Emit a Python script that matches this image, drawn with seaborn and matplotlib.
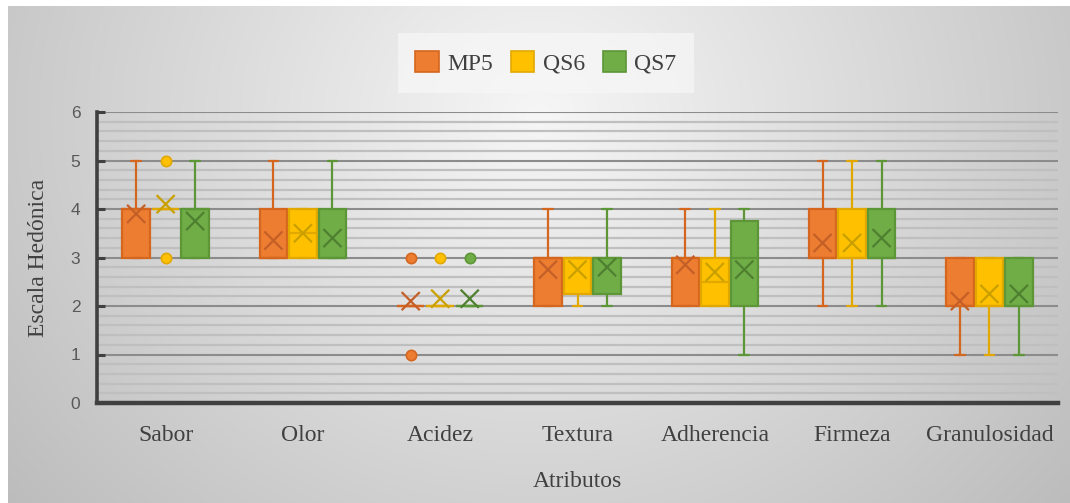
import numpy as np
import pandas as pd
import matplotlib
matplotlib.use("Agg")
import matplotlib.pyplot as plt
from matplotlib.patches import Patch
from matplotlib.ticker import MultipleLocator
import seaborn as sns

# ---------------- data ----------------
categories = ["Sabor", "Olor", "Acidez", "Textura", "Adherencia", "Firmeza", "Granulosidad"]
series = ["MP5", "QS6", "QS7"]

q1 = {"MP5": [3, 3, 2, 2, 2, 3, 2],
      "QS6": [4, 3, 2, 2.25, 2, 3, 2],
      "QS7": [3, 3, 2, 2.25, 2, 3, 2]}
q3 = {"MP5": [4, 4, 2, 3, 3, 4, 3],
      "QS6": [4, 4, 2, 3, 3, 4, 3],
      "QS7": [4, 4, 2, 3, 3.75, 4, 3]}
median = {"MP5": [4, 3, 2, 3, 3, 3, 2],
          "QS6": [4, 3.5, 2, 3, 2.5, 3, 2],
          "QS7": [4, 3, 2, 3, 3, 3, 2]}
whisker_low = {"MP5": [3, 3, 2, 2, 2, 2, 1],
               "QS6": [4, 3, 2, 2, 2, 2, 1],
               "QS7": [3, 3, 2, 2, 1, 2, 1]}
whisker_high = {"MP5": [5, 5, 2, 4, 4, 5, 3],
                "QS6": [4, 4, 2, 3, 4, 5, 3],
                "QS7": [5, 5, 2, 4, 4, 5, 3]}
mean = {"MP5": [3.9, 3.35, 2.1, 2.75, 2.85, 3.3, 2.1],
        "QS6": [4.1, 3.5, 2.15, 2.75, 2.7, 3.3, 2.25],
        "QS7": [3.75, 3.4, 2.15, 2.8, 2.75, 3.4, 2.25]}
outliers = {"MP5": [[], [], [3, 1], [], [], [], []],
            "QS6": [[3, 5], [], [3], [], [], [], []],
            "QS7": [[], [], [3], [], [], [], []]}

y_ticks = [0, 1, 2, 3, 4, 5, 6]

# ---------------- style ----------------
fill = {"MP5": "#ED7D31", "QS6": "#FFC000", "QS7": "#70AD47"}
edge = {"MP5": "#D4661E", "QS6": "#E3A800", "QS7": "#5C9637"}
dark = {"MP5": "#C45F27", "QS6": "#C9A000", "QS7": "#4E8030"}
offsets = {"MP5": -0.215, "QS6": 0.0, "QS7": 0.215}

sns.set_theme(style="white")
plt.rcParams["font.family"] = ["Liberation Serif", "DejaVu Serif"]

W, H = 1070, 503
fig = plt.figure(figsize=(W / 100, H / 100), dpi=100)
fig.patch.set_facecolor("white")

# background gradient panel
bg = fig.add_axes([8 / W, 0, 1 - 8 / W, 1 - 6 / H], zorder=-5)
gx = np.linspace(0, 1, 400)
gy = np.linspace(1, 0, 200)
GX, GY = np.meshgrid(gx, gy)
d = np.sqrt(((GX - 0.5) / 0.5) ** 2 + ((GY - 0.78) / 0.95) ** 2)
val = np.clip(0.965 - 0.175 * d, 0, 1)
bg.imshow(np.dstack([val, val, val]), aspect="auto", extent=[0, 1, 0, 1])
bg.set_axis_off()

L, R = 97, 1058
T, B = 112, 403
ax = fig.add_axes([L / W, 1 - B / H, (R - L) / W, (B - T) / H])
ax.set_facecolor("none")

# boxes
for s in series:
    for i, c in enumerate(categories):
        st = dict(q1=q1[s][i], q3=q3[s][i], med=median[s][i],
                  whislo=whisker_low[s][i], whishi=whisker_high[s][i], fliers=[])
        ax.bxp([st], positions=[i + offsets[s]], widths=0.2, capwidths=0.07,
               patch_artist=True, showfliers=False, manage_ticks=False,
               boxprops=dict(facecolor=fill[s], edgecolor=edge[s], linewidth=1.6),
               medianprops=dict(color=edge[s], linewidth=1.6),
               whiskerprops=dict(color=edge[s], linewidth=1.6),
               capprops=dict(color=edge[s], linewidth=1.6), zorder=3)

# means and outliers via seaborn
rows_m, rows_o = [], []
for s in series:
    for i, c in enumerate(categories):
        rows_m.append(dict(serie=s, x=i + offsets[s], y=mean[s][i]))
        for v in outliers[s][i]:
            rows_o.append(dict(serie=s, x=i + offsets[s], y=v))
df_m = pd.DataFrame(rows_m)
df_o = pd.DataFrame(rows_o)

sns.scatterplot(data=df_m, x="x", y="y", hue="serie", palette=dark, marker="x",
                s=170, linewidth=1.6, legend=False, ax=ax, zorder=5)
for s in series:
    sub = df_o[df_o["serie"] == s]
    sns.scatterplot(data=sub, x="x", y="y", color=fill[s], edgecolor=edge[s],
                    marker="o", s=55, linewidth=1.2, legend=False, ax=ax, zorder=5)

# axes
ax.set_xlim(-0.5, len(categories) - 0.5)
ax.set_ylim(0, 6)
ax.set_xticks(range(len(categories)))
ax.set_xticklabels(categories, fontsize=17, color="#404040")
ax.set_yticks(y_ticks)
ax.set_yticklabels([str(t) for t in y_ticks], fontsize=12.5, color="#595959",
                   family=["Liberation Sans", "DejaVu Sans"])
ax.yaxis.set_minor_locator(MultipleLocator(0.2))
ax.tick_params(axis="x", length=0, pad=16)
ax.tick_params(axis="y", which="major", direction="in", length=6, width=2.2,
               color="#404040", pad=12, left=True)
ax.tick_params(axis="y", which="minor", length=0)
ax.grid(axis="y", which="major", color="#8c8c8c", linewidth=1.5)
ax.grid(axis="y", which="minor", color="#bfbfbf", linewidth=1.6)
ax.grid(axis="x", visible=False)
ax.set_axisbelow(True)
for sp in ["top", "right"]:
    ax.spines[sp].set_visible(False)
ax.spines["left"].set_color("#404040")
ax.spines["left"].set_linewidth(2.6)
ax.spines["bottom"].set_color("#404040")
ax.spines["bottom"].set_linewidth(3.2)
ax.spines["bottom"].set_zorder(6)

ax.set_xlabel("Atributos", fontsize=17, color="#404040")
ax.xaxis.set_label_coords(0.5, -0.235)
ax.set_ylabel("Escala Hedónica", fontsize=17, color="#404040")
ax.yaxis.set_label_coords(-0.05, 0.5)

handles = [Patch(facecolor=fill[s], edgecolor=edge[s], linewidth=1.2, label=s) for s in series]
leg = fig.legend(handles=handles, loc="center", bbox_to_anchor=(546 / W, 1 - 63 / H),
                 ncol=3, fontsize=17, frameon=True, handlelength=1.0, handleheight=1.0,
                 handletextpad=0.35, columnspacing=0.75, borderpad=0.75, fancybox=False)
leg.get_frame().set_facecolor("#f7f7f7")
leg.get_frame().set_edgecolor("none")
leg.get_frame().set_alpha(0.7)
for t in leg.get_texts():
    t.set_color("#404040")

fig.savefig("out.png", dpi=100)
